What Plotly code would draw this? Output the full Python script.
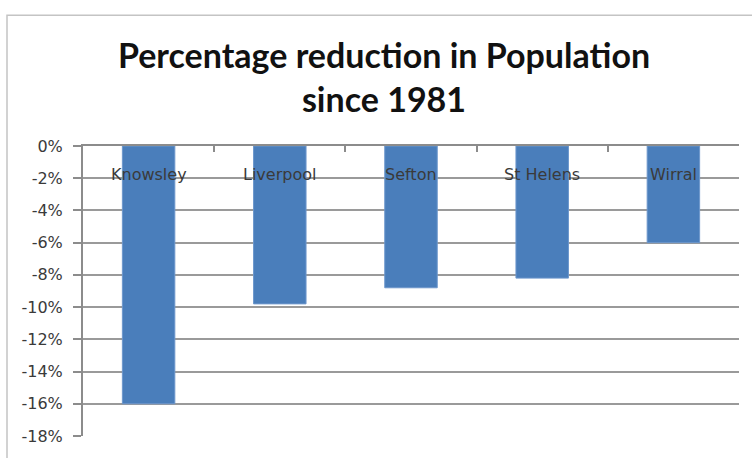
import plotly.graph_objects as go

# Districts and their population change since 1981 (percent)
districts = ["Knowsley", "Liverpool", "Sefton", "St Helens", "Wirral"]
change_pct = [-16.0, -9.8, -8.8, -8.2, -6.0]

# Y-axis ticks
y_tickvals = [0, -2, -4, -6, -8, -10, -12, -14, -16, -18]
y_ticktext = ["0%", "-2%", "-4%", "-6%", "-8%", "-10%", "-12%", "-14%", "-16%", "-18%"]

W, H = 752, 458
ML, MR, MT, MB = 83, 13, 146, 17
PW, PH = W - ML - MR, H - MT - MB

GRID = "#9a9a9a"
AXIS = "#8c8c8c"
TXT = "#3a3a3a"


def px_to_paper_x(px):
    return (px - ML) / PW


def px_to_paper_y(py):
    return (H - MB - py) / PH


fig = go.Figure(
    go.Bar(
        x=districts,
        y=change_pct,
        width=0.4,
        marker=dict(color="#4a7ebb", line=dict(color="#6d97cc", width=1)),
    )
)

# category names sit just under the zero line
for name in districts:
    fig.add_annotation(
        x=name,
        y=0,
        xref="x",
        yref="y",
        text=name,
        showarrow=False,
        yanchor="top",
        yshift=-17,
        font=dict(family="DejaVu Sans", size=16, color=TXT),
    )

fig.update_layout(
    width=W,
    height=H,
    margin=dict(l=ML, r=MR, t=MT, b=MB),
    paper_bgcolor="white",
    plot_bgcolor="white",
    showlegend=False,
    title=dict(
        text="Percentage reduction in Population<br>since 1981",
        x=384 / W,
        xref="container",
        xanchor="center",
        y=1 - 68 / H,
        yref="container",
        yanchor="middle",
        font=dict(family="Lato", size=34, color="#111111", weight="bold"),
    ),
    xaxis=dict(
        side="top",
        showline=True,
        linecolor=AXIS,
        linewidth=2,
        ticks="inside",
        tickson="boundaries",
        ticklen=6,
        tickcolor=AXIS,
        tickwidth=1.5,
        showticklabels=False,
        showgrid=False,
        fixedrange=True,
    ),
    yaxis=dict(
        range=[-18, 0],
        tickvals=y_tickvals,
        ticktext=y_ticktext,
        showgrid=True,
        gridcolor=GRID,
        gridwidth=2,
        showline=True,
        linecolor=AXIS,
        linewidth=2,
        ticks="outside",
        ticklen=8,
        tickcolor=AXIS,
        tickwidth=1.5,
        zeroline=False,
        tickfont=dict(family="DejaVu Sans", size=16, color=TXT),
        ticklabelstandoff=7,
        fixedrange=True,
    ),
    shapes=[
        # chart frame
        dict(
            type="rect",
            xref="paper",
            yref="paper",
            x0=px_to_paper_x(7),
            x1=px_to_paper_x(W + 10),
            y0=px_to_paper_y(H + 10),
            y1=px_to_paper_y(13),
            line=dict(color="#c4c4c4", width=1.5),
            fillcolor="rgba(0,0,0,0)",
            layer="below",
        )
    ],
)

fig.write_html("out.html")
